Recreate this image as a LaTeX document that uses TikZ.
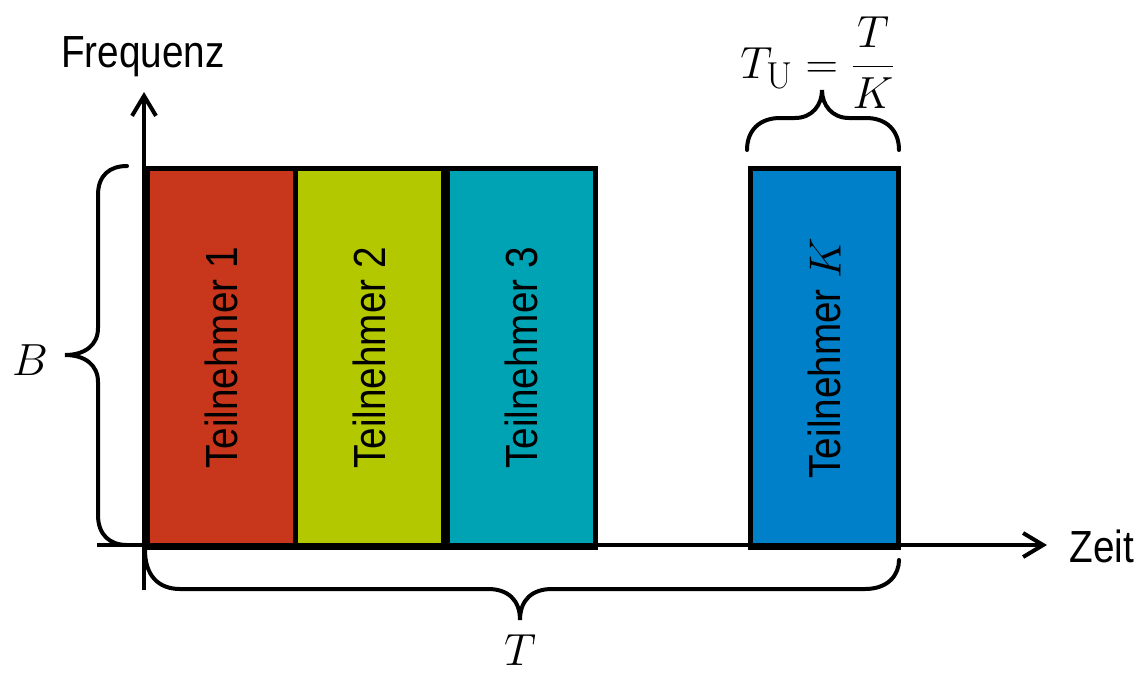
\documentclass[tikz,border=0pt]{standalone}
\usepackage{graphicx}
\usepackage[no-math]{fontspec}
\setmainfont{Liberation Sans}[FakeStretch=0.86]
\usetikzlibrary{arrows.meta}
\definecolor{cred}{HTML}{C8361C}
\definecolor{clime}{HTML}{B4C800}
\definecolor{cteal}{HTML}{00A3B4}
\definecolor{cblue}{HTML}{0080C8}
\newcommand{\bigmath}[1]{\scalebox{1.81}{\fontsize{24.88}{30}\selectfont$#1$}}
\begin{document}
\begin{tikzpicture}[x=1pt,y=-1pt,
  big/.style={font=\fontsize{45}{54}\selectfont},
  slot/.style={draw=black,line width=5pt,minimum width=148pt,minimum height=379pt,
    inner sep=0pt,anchor=north west,big},
  slotlabel/.style={big,rotate=90,inner sep=0pt},
  axis/.style={line width=4pt,-{Straight Barb[length=20pt,width=24pt,line width=4pt]}},
  bracepath/.style={line width=4pt,line cap=round}]
\useasboundingbox (0,0) rectangle (1139,675);
% boxes
\node[slot,fill=cred]  (b1) at (145,166) {};
\node[slot,fill=clime] (b2) at (293,166) {};
\node[slot,fill=cteal] (b3) at (445,166) {};
\node[slot,fill=cblue] (bk) at (748,166) {};
\node[slotlabel] (l1) at (b1.center) {Teilnehmer 1};
\node[slotlabel] (l2) at (b2.center) {Teilnehmer 2};
\node[slotlabel] (l3) at (b3.center) {Teilnehmer 3};
\node[slotlabel] (lk) at (bk.center) {Teilnehmer \bigmath{K}};
% axes
\coordinate (yo) at (144,590);
\coordinate (yt) at (144,92);
\coordinate (xo) at (97,545);
\coordinate (xt) at (1047,545);
\draw[axis] (yo) -- (yt);
\draw[axis] (xo) -- (xt);
\node[big,inner sep=0pt] (freq) at (143,57) {Frequenz};
\node[big,inner sep=0pt] (zeit) at (1102,546) {Zeit};
% left brace
\draw[bracepath] (127,166) .. controls (110,166) and (98,175) .. (98,195) -- (98,328)
  .. controls (98,345) and (85,355) .. (65,355)
  .. controls (85,355) and (98,365) .. (98,382) -- (98,515)
  .. controls (98,535) and (110,545) .. (127,545);
\node[big,inner sep=0pt] (B) at (30,360) {\bigmath{B}};
% bottom brace
\draw[bracepath] (145,550) .. controls (145,575) and (158,589) .. (180,589) -- (488,589)
  .. controls (508,589) and (520,600) .. (520,620)
  .. controls (520,600) and (532,589) .. (552,589) -- (865,589)
  .. controls (888,589) and (899,575) .. (899,560);
\node[big,inner sep=0pt] (T) at (520,650) {\bigmath{T}};
% top brace
\draw[bracepath] (747,150) .. controls (747,130) and (760,118) .. (780,118) -- (795,118)
  .. controls (812,118) and (822,105) .. (822,90)
  .. controls (822,105) and (832,118) .. (849,118) -- (866,118)
  .. controls (886,118) and (899,130) .. (899,150);
\node[big,anchor=base,inner sep=0pt] (TU) at (818,78) {\bigmath{\displaystyle T_{\mathrm{U}} = \frac{T}{K}}};
\end{tikzpicture}
\end{document}
